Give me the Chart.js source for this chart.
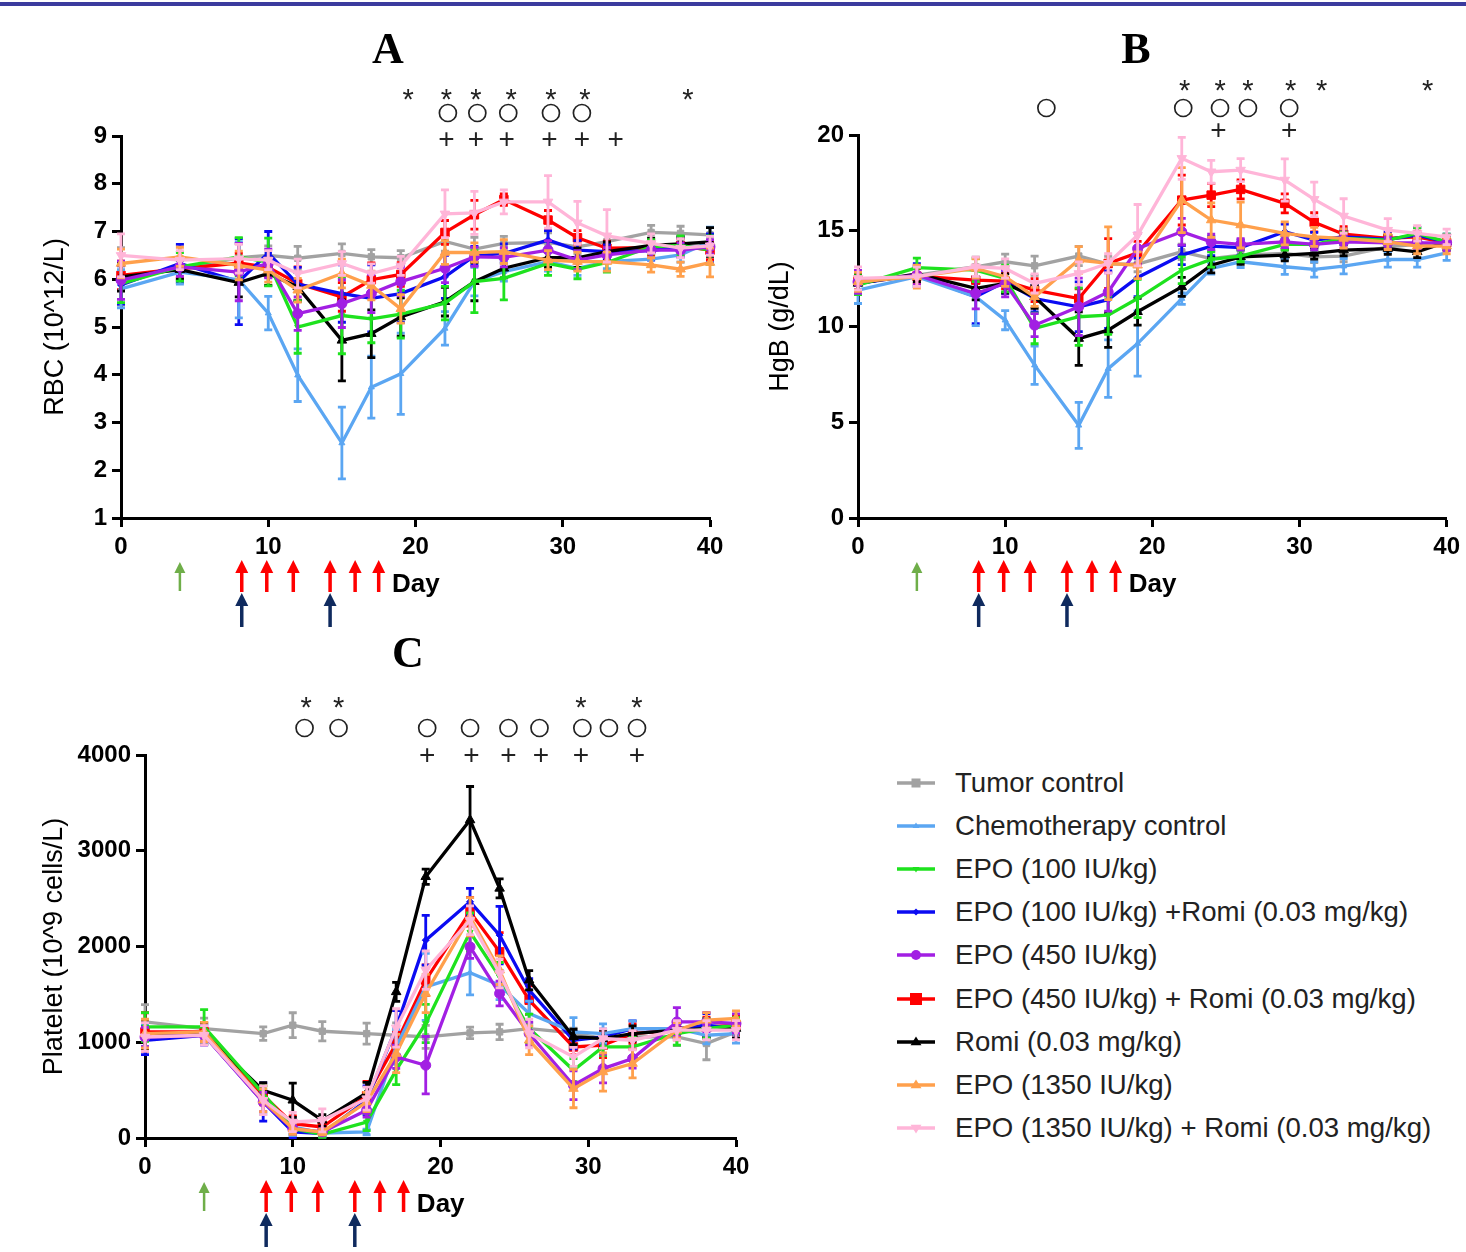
<!DOCTYPE html>
<html>
<head>
<meta charset="utf-8">
<script src="https://cdn.jsdelivr.net/npm/chart.js@4.4.1/dist/chart.umd.min.js"></script>
<style>
  html, body { margin: 0; padding: 0; background: #fff; }
  body { width: 1466px; height: 1252px; position: relative; overflow: hidden; font-family: 'Liberation Sans', Arial, sans-serif; }
  .rule { position: absolute; left: 0; top: 2px; width: 1466px; height: 4px; background: #3b3b9e; }
  canvas { position: absolute; }
  #legend { position: absolute; left: 897px; top: 761px; }
  .leg-row { position: absolute; left: 0; height: 44px; display: flex; align-items: center; white-space: nowrap; font-size: 27.6px; color: #222; }
  .leg-row svg { margin-right: 20px; }
</style>
</head>
<body>
<div class="rule"></div>
<canvas id="chartA" width="745" height="635" style="left:0;top:0"></canvas>
<canvas id="chartB" width="726" height="635" style="left:740px;top:0"></canvas>
<canvas id="chartC" width="760" height="617" style="left:0;top:635px"></canvas>
<div id="legend"></div>

<script>
// --- Data ---
const days = [0, 4, 8, 10, 12, 15, 17, 19, 22, 24, 26, 29, 31, 33, 36, 38, 40];

// A: RBC (10^12/L)
const rbcTumor    = [6.06, 6.22, 6.45, 6.50, 6.44, 6.54, 6.47, 6.45, 6.79, 6.63, 6.75, 6.77, 6.68, 6.79, 6.98, 6.96, 6.93];
const rbcChemo    = [5.80, 6.15, 5.99, 5.29, 3.99, 2.57, 3.74, 4.02, 4.97, 5.95, 6.16, 6.37, 6.23, 6.37, 6.42, 6.51, 6.79];
const rbcEpo100   = [5.91, 6.26, 6.47, 6.36, 5.00, 5.24, 5.17, 5.27, 5.50, 5.95, 6.02, 6.33, 6.21, 6.35, 6.68, 6.71, 6.61];
const rbcEpo100R  = [5.88, 6.33, 5.95, 6.55, 5.90, 5.70, 5.60, 5.70, 6.05, 6.49, 6.54, 6.82, 6.61, 6.58, 6.60, 6.68, 6.65];
const rbcEpo450   = [5.98, 6.26, 6.15, 6.33, 5.28, 5.49, 5.70, 5.95, 6.23, 6.47, 6.46, 6.61, 6.40, 6.51, 6.61, 6.61, 6.68];
const rbcEpo450R  = [6.08, 6.22, 6.34, 6.25, 5.91, 5.63, 5.99, 6.10, 6.98, 7.35, 7.67, 7.24, 6.87, 6.65, 6.66, 6.70, 6.61];
const rbcRomi     = [6.05, 6.20, 5.93, 6.12, 5.84, 4.72, 4.86, 5.21, 5.53, 5.95, 6.23, 6.45, 6.45, 6.58, 6.71, 6.74, 6.78];
const rbcEpo1350  = [6.33, 6.47, 6.29, 6.19, 5.77, 6.12, 5.87, 5.38, 6.56, 6.56, 6.58, 6.40, 6.37, 6.37, 6.30, 6.21, 6.35];
const rbcEpo1350R = [6.50, 6.40, 6.43, 6.40, 6.12, 6.33, 6.12, 6.28, 7.37, 7.39, 7.62, 7.62, 7.18, 6.91, 6.75, 6.65, 6.70];

const rbcTumorErr    = [0.6, 0.25, 0.3, 0.2, 0.25, 0.2, 0.15, 0.15, 0.2, 0.25, 0.15, 0.2, 0.15, 0.15, 0.15, 0.15, 0.15];
const rbcChemoErr    = [0.4, 0.25, 0.8, 0.35, 0.55, 0.75, 0.65, 0.85, 0.35, 0.3, 0.2, 0.2, 0.15, 0.15, 0.15, 0.15, 0.3];
const rbcEpo100Err   = [0.4, 0.3, 0.4, 0.5, 0.55, 0.8, 0.5, 0.5, 0.35, 0.65, 0.45, 0.25, 0.2, 0.2, 0.15, 0.2, 0.3];
const rbcEpo100RErr  = [0.4, 0.4, 0.9, 0.45, 0.35, 0.6, 0.7, 0.6, 0.45, 0.2, 0.2, 0.2, 0.2, 0.15, 0.2, 0.2, 0.3];
const rbcEpo450Err   = [0.4, 0.2, 0.6, 0.3, 0.35, 0.5, 0.4, 0.3, 0.3, 0.2, 0.2, 0.2, 0.2, 0.15, 0.15, 0.15, 0.15];
const rbcEpo450RErr  = [0.3, 0.2, 0.2, 0.2, 0.35, 0.3, 0.35, 0.25, 0.25, 0.3, 0.12, 0.2, 0.15, 0.15, 0.15, 0.15, 0.2];
const rbcRomiErr     = [0.3, 0.2, 0.3, 0.25, 0.3, 0.85, 0.5, 0.4, 0.3, 0.4, 0.2, 0.2, 0.2, 0.2, 0.15, 0.15, 0.3];
const rbcEpo1350Err  = [0.3, 0.2, 0.3, 0.25, 0.25, 0.3, 0.3, 0.3, 0.25, 0.2, 0.25, 0.2, 0.2, 0.2, 0.15, 0.15, 0.3];
const rbcEpo1350RErr = [0.45, 0.2, 0.3, 0.2, 0.3, 0.25, 0.2, 0.2, 0.5, 0.45, 0.25, 0.55, 0.45, 0.55, 0.2, 0.2, 0.2];

// B: HgB (g/dL)
const hgbTumor    = [12.28, 12.68, 13.12, 13.38, 13.17, 13.68, 13.26, 13.26, 13.90, 13.55, 13.73, 13.82, 13.64, 13.68, 14.16, 14.29, 14.37];
const hgbChemo    = [11.90, 12.60, 11.55, 10.33, 7.98, 4.84, 7.80, 9.11, 11.46, 13.03, 13.38, 13.12, 12.98, 13.15, 13.50, 13.50, 13.85];
const hgbEpo100   = [12.16, 13.07, 12.94, 12.51, 9.90, 10.51, 10.59, 11.46, 12.94, 13.50, 13.68, 14.29, 14.29, 14.60, 14.51, 14.86, 14.42];
const hgbEpo100R  = [12.25, 12.68, 11.55, 12.33, 11.46, 11.03, 11.40, 12.56, 13.73, 14.20, 14.12, 14.95, 14.51, 14.68, 14.55, 14.77, 14.42];
const hgbEpo450   = [12.33, 12.68, 11.72, 12.25, 10.07, 11.03, 11.80, 14.07, 14.95, 14.42, 14.29, 14.42, 14.29, 14.42, 14.37, 14.37, 14.37];
const hgbEpo450R  = [12.42, 12.63, 12.42, 12.37, 11.90, 11.46, 13.29, 13.85, 16.60, 16.86, 17.16, 16.43, 15.44, 14.82, 14.60, 14.68, 14.37];
const hgbRomi     = [12.25, 12.74, 11.99, 12.25, 11.55, 9.37, 9.81, 10.77, 12.07, 13.20, 13.64, 13.73, 13.82, 13.99, 14.07, 13.90, 14.42];
const hgbEpo1350  = [12.33, 12.60, 13.03, 12.60, 11.55, 13.47, 13.30, 13.20, 16.60, 15.56, 15.30, 14.86, 14.68, 14.60, 14.42, 14.20, 14.20];
const hgbEpo1350R = [12.51, 12.60, 13.12, 13.03, 12.25, 12.77, 13.30, 14.77, 18.78, 18.08, 18.17, 17.65, 16.64, 15.77, 15.03, 14.86, 14.68];

const hgbTumorErr    = [0.6, 0.4, 0.5, 0.4, 0.5, 0.5, 0.4, 0.4, 0.4, 0.4, 0.3, 0.3, 0.3, 0.3, 0.3, 0.3, 0.4];
const hgbChemoErr    = [0.7, 0.5, 1.5, 0.5, 1.0, 1.2, 1.5, 1.7, 0.3, 0.3, 0.3, 0.4, 0.4, 0.4, 0.4, 0.4, 0.4];
const hgbEpo100Err   = [0.5, 0.5, 0.6, 0.7, 0.8, 1.5, 1.0, 1.0, 0.7, 0.4, 0.3, 0.3, 0.3, 0.3, 0.3, 0.3, 0.4];
const hgbEpo100RErr  = [0.5, 0.6, 1.4, 0.6, 0.7, 1.3, 1.5, 1.0, 0.5, 0.5, 0.4, 0.4, 0.4, 0.4, 0.4, 0.4, 0.4];
const hgbEpo450Err   = [0.6, 0.5, 0.8, 0.7, 0.6, 1.5, 1.0, 0.8, 0.7, 0.4, 0.3, 0.3, 0.3, 0.3, 0.3, 0.3, 0.4];
const hgbEpo450RErr  = [0.5, 0.4, 0.5, 0.4, 0.6, 0.5, 1.3, 0.6, 1.3, 0.6, 0.5, 0.5, 0.5, 0.4, 0.3, 0.3, 0.4];
const hgbRomiErr     = [0.5, 0.4, 0.6, 0.5, 0.6, 1.4, 0.9, 0.7, 0.5, 0.4, 0.4, 0.3, 0.3, 0.3, 0.3, 0.3, 0.3];
const hgbEpo1350Err  = [0.5, 0.6, 0.5, 0.5, 0.5, 0.7, 1.9, 0.7, 1.7, 0.9, 1.2, 0.6, 0.5, 0.5, 0.4, 0.4, 0.4];
const hgbEpo1350RErr = [0.6, 0.5, 0.5, 0.5, 0.5, 0.6, 0.5, 1.6, 1.1, 0.6, 0.6, 1.1, 0.9, 0.9, 0.6, 0.4, 0.4];

// C: Platelet (10^9 cells/L)
const pltTumor    = [1212, 1143, 1090, 1178, 1115, 1090, 1073, 1056, 1097, 1108, 1143, 1097, 1039, 1056, 1056, 987, 1108];
const pltChemo    = [1073, 1090, 376, 115, 52, 63, 951, 1578, 1725, 1596, 1300, 1108, 1091, 1143, 1143, 1073, 1091];
const pltEpo100   = [1160, 1160, 463, 98, 38, 167, 708, 1196, 2150, 1683, 1143, 708, 951, 951, 1091, 1143, 1178];
const pltEpo100R  = [1021, 1073, 376, 63, 45, 394, 1150, 2066, 2467, 2119, 1544, 1021, 1056, 1143, 1143, 1178, 1143];
const pltEpo450   = [1055, 1073, 376, 98, 63, 289, 847, 760, 1996, 1509, 1091, 551, 725, 830, 1212, 1212, 1196];
const pltEpo450R  = [1108, 1108, 446, 150, 115, 440, 987, 1648, 2362, 1944, 1439, 951, 969, 1091, 1126, 1161, 1178];
const pltRomi     = [1073, 1090, 498, 394, 185, 470, 1526, 2728, 3321, 2607, 1648, 1056, 1039, 1091, 1126, 1143, 1143];
const pltEpo1350  = [1090, 1108, 394, 98, 63, 376, 882, 1509, 2310, 1753, 1021, 516, 690, 778, 1126, 1230, 1248];
const pltEpo1350R = [1055, 1073, 394, 167, 185, 411, 1150, 1753, 2275, 1718, 1091, 847, 1039, 1021, 1126, 1126, 1126];

const pltTumorErr    = [180, 110, 70, 130, 100, 110, 130, 120, 60, 80, 60, 50, 70, 80, 90, 170, 80];
const pltChemoErr    = [120, 100, 130, 90, 40, 30, 180, 350, 230, 150, 130, 150, 100, 80, 80, 90, 100];
const pltEpo100Err   = [150, 180, 80, 60, 30, 90, 150, 200, 200, 150, 150, 120, 90, 100, 120, 100, 80];
const pltEpo100RErr  = [150, 100, 200, 60, 30, 150, 180, 260, 140, 300, 120, 90, 80, 80, 80, 120, 100];
const pltEpo450Err   = [100, 100, 100, 60, 30, 70, 120, 300, 120, 130, 120, 150, 150, 100, 150, 100, 100];
const pltEpo450RErr  = [200, 100, 100, 80, 60, 150, 120, 160, 150, 200, 150, 80, 130, 100, 100, 100, 100];
const pltRomiErr     = [150, 110, 80, 180, 60, 110, 100, 80, 350, 100, 100, 80, 90, 80, 80, 100, 100];
const pltEpo1350Err  = [150, 100, 120, 60, 30, 100, 200, 200, 200, 150, 150, 200, 200, 150, 80, 80, 80];
const pltEpo1350RErr = [150, 100, 150, 100, 120, 120, 200, 200, 150, 150, 150, 100, 100, 100, 100, 100, 100];

// significance marks (day positions) per panel
const rbcStars   = [19.5, 22.1, 24.1, 26.5, 29.2, 31.5, 38.5];
const rbcCircles = [22.2, 24.2, 26.3, 29.2, 31.3];
const rbcPluses  = [22.1, 24.1, 26.2, 29.1, 31.3, 33.6];
const hgbStars   = [22.2, 24.6, 26.5, 29.4, 31.5, 38.7];
const hgbCircles = [12.8, 22.1, 24.6, 26.5, 29.3];
const hgbPluses  = [24.5, 29.3];
const pltStars   = [10.9, 13.1, 29.5, 33.3];
const pltCircles = [10.8, 13.1, 19.1, 22.0, 24.6, 26.7, 29.6, 31.4, 33.3];
const pltPluses  = [19.1, 22.1, 24.6, 26.8, 29.5, 33.3];

// treatment arrows (days)
const epoArrowDays   = [8.2, 9.9, 11.7, 14.2, 15.9, 17.5];
const chemoArrowDays = [8.2, 14.2];
const tumorArrowDays = [4.0];

// --- Styles ---
const SANS = "'Liberation Sans', Arial, sans-serif";
const SERIF = "'Liberation Serif', 'Times New Roman', serif";

const SERIES = [
    { key: 'tumor',     label: 'Tumor control',                       color: '#a2a2a2', style: 'rect',     radius: 4.5, rotation: 0 },
    { key: 'chemo',     label: 'Chemotherapy control',                color: '#5ba6f2', style: 'triangle', radius: 3.5, rotation: 0 },
    { key: 'epo100',    label: 'EPO (100 IU/kg)',                     color: '#1ee21e', style: 'triangle', radius: 3.5, rotation: 180 },
    { key: 'epo100r',   label: 'EPO (100 IU/kg) +Romi (0.03 mg/kg)',  color: '#0b0bf2', style: 'rectRot',  radius: 3.5, rotation: 0 },
    { key: 'epo450',    label: 'EPO (450 IU/kg)',                     color: '#a21fe3', style: 'circle',   radius: 5,   rotation: 0 },
    { key: 'epo450r',   label: 'EPO (450 IU/kg) + Romi (0.03 mg/kg)', color: '#ff0000', style: 'rect',     radius: 6,   rotation: 0 },
    { key: 'romi',      label: 'Romi (0.03 mg/kg)',                   color: '#000000', style: 'triangle', radius: 5.5, rotation: 0 },
    { key: 'epo1350',   label: 'EPO (1350 IU/kg)',                    color: '#ffa04c', style: 'triangle', radius: 5.5, rotation: 0 },
    { key: 'epo1350r',  label: 'EPO (1350 IU/kg) + Romi (0.03 mg/kg)', color: '#ffb5d8', style: 'triangle', radius: 5.5, rotation: 180 },
];
// drawing order (later = on top)
const DRAW_ORDER = ['epo1350r', 'epo1350', 'epo450', 'epo100', 'romi', 'chemo', 'epo100r', 'epo450r', 'tumor'];

// --- Plugins ---
const errorBarPlugin = {
    id: 'errorBars',
    afterDatasetDraw(chart, args) {
        const ds = chart.data.datasets[args.index];
        if (!ds.errors) return;
        const { ctx, scales: { y } } = chart;
        ctx.save();
        ctx.strokeStyle = ds.borderColor;
        ctx.lineWidth = 2.8;
        args.meta.data.forEach((pt, i) => {
            const v = ds.data[i].y;
            const e = ds.errors[i];
            const top = y.getPixelForValue(v + e);
            const bot = y.getPixelForValue(v - e);
            ctx.beginPath();
            ctx.moveTo(pt.x, top); ctx.lineTo(pt.x, bot);
            ctx.moveTo(pt.x - 4, top); ctx.lineTo(pt.x + 4, top);
            ctx.moveTo(pt.x - 4, bot); ctx.lineTo(pt.x + 4, bot);
            ctx.stroke();
        });
        ctx.restore();
    }
};

function drawArrow(ctx, x, yTip, yTail, color, shaft, headW, headH) {
    ctx.fillStyle = color;
    ctx.fillRect(x - shaft / 2, yTip + headH - 1, shaft, yTail - yTip - headH + 1);
    ctx.beginPath();
    ctx.moveTo(x, yTip);
    ctx.lineTo(x + headW / 2, yTip + headH);
    ctx.lineTo(x - headW / 2, yTip + headH);
    ctx.closePath();
    ctx.fill();
}

const extrasPlugin = {
    id: 'panelExtras',
    afterDraw(chart, args, opts) {
        const { ctx, chartArea, scales: { x } } = chart;
        ctx.save();
        ctx.fillStyle = '#000';

        // panel letter
        ctx.font = `bold 44px ${SERIF}`;
        ctx.textAlign = 'center';
        ctx.textBaseline = 'alphabetic';
        ctx.fillText(opts.letter, opts.letterX, opts.letterY);

        // significance marks
        ctx.fillStyle = '#222';
        ctx.font = `29px ${SANS}`;
        opts.stars.forEach(d => ctx.fillText('*', x.getPixelForValue(d), opts.starY + 17));
        ctx.font = `28px ${SANS}`;
        opts.pluses.forEach(d => ctx.fillText('+', x.getPixelForValue(d), opts.plusY + 9));
        ctx.strokeStyle = '#222';
        ctx.lineWidth = 1.7;
        opts.circles.forEach(d => {
            ctx.beginPath();
            ctx.arc(x.getPixelForValue(d), opts.circleY, 8.5, 0, Math.PI * 2);
            ctx.stroke();
        });

        // treatment arrows under the x axis
        const b = chartArea.bottom;
        tumorArrowDays.forEach(d => drawArrow(ctx, x.getPixelForValue(d), b + 44, b + 73, '#6fae49', 2.5, 11, 11));
        epoArrowDays.forEach(d => drawArrow(ctx, x.getPixelForValue(d), b + 42, b + 74, '#ff0000', 3.5, 13, 13));
        chemoArrowDays.forEach(d => drawArrow(ctx, x.getPixelForValue(d), b + 75, b + 109, '#0f2a5e', 3.5, 13, 13));

        // "Day" axis label
        ctx.fillStyle = '#000';
        ctx.font = `bold 26px ${SANS}`;
        ctx.textAlign = 'left';
        ctx.fillText('Day', x.getPixelForValue(18.4), b + 74);
        ctx.restore();
    }
};

// --- Chart builder ---
function buildPanel(canvasId, cfg) {
    const datasets = DRAW_ORDER.map(key => {
        const s = SERIES.find(d => d.key === key);
        return {
            label: s.label,
            data: days.map((d, i) => ({ x: d, y: cfg.values[key][i] })),
            errors: cfg.errors[key],
            borderColor: s.color,
            backgroundColor: s.color,
            borderWidth: 3.3,
            pointStyle: s.style,
            pointRadius: s.radius,
            pointRotation: s.rotation,
            pointBorderWidth: 1,
            tension: 0,
            clip: false,
        };
    });

    return new Chart(document.getElementById(canvasId), {
        type: 'line',
        data: { datasets },
        options: {
            responsive: false,
            animation: false,
            layout: { padding: cfg.padding },
            scales: {
                x: {
                    type: 'linear', min: 0, max: 40,
                    ticks: { stepSize: 10, color: '#000', padding: 6, maxRotation: 0, autoSkip: false,
                             font: { family: SANS, size: 24, weight: 'bold' } },
                    grid: { display: true, drawOnChartArea: false, drawTicks: true, tickLength: 9, tickWidth: 3, tickColor: '#000' },
                    border: { display: true, color: '#000', width: 3 },
                    afterFit: s => { s.height = 45; }
                },
                y: {
                    type: 'linear', min: cfg.yMin, max: cfg.yMax,
                    ticks: { stepSize: cfg.yStep, color: '#000', padding: 5,
                             callback: v => String(v),
                             font: { family: SANS, size: 24, weight: 'bold' } },
                    grid: { display: true, drawOnChartArea: false, drawTicks: true, tickLength: 9, tickWidth: 3, tickColor: '#000' },
                    border: { display: true, color: '#000', width: 3 },
                    title: { display: true, text: cfg.yTitle, color: '#000',
                             font: { family: SANS, size: 27 }, padding: { top: cfg.titlePad, bottom: 0 } },
                    afterFit: s => { s.width = cfg.yWidth; }
                }
            },
            plugins: {
                legend: { display: false },
                tooltip: { enabled: false },
                panelExtras: cfg.extras
            }
        },
        plugins: [errorBarPlugin, extrasPlugin]
    });
}

buildPanel('chartA', {
    values: { tumor: rbcTumor, chemo: rbcChemo, epo100: rbcEpo100, epo100r: rbcEpo100R, epo450: rbcEpo450,
              epo450r: rbcEpo450R, romi: rbcRomi, epo1350: rbcEpo1350, epo1350r: rbcEpo1350R },
    errors: { tumor: rbcTumorErr, chemo: rbcChemoErr, epo100: rbcEpo100Err, epo100r: rbcEpo100RErr, epo450: rbcEpo450Err,
              epo450r: rbcEpo450RErr, romi: rbcRomiErr, epo1350: rbcEpo1350Err, epo1350r: rbcEpo1350RErr },
    yMin: 1, yMax: 9, yStep: 1, yTitle: 'RBC (10^12/L)', yWidth: 121, titlePad: 39,
    padding: { left: 0, top: 136, right: 35, bottom: 72 },
    extras: { letter: 'A', letterX: 388, letterY: 63, stars: rbcStars, circles: rbcCircles, pluses: rbcPluses,
              starY: 92, circleY: 113, plusY: 139 }
});

buildPanel('chartB', {
    values: { tumor: hgbTumor, chemo: hgbChemo, epo100: hgbEpo100, epo100r: hgbEpo100R, epo450: hgbEpo450,
              epo450r: hgbEpo450R, romi: hgbRomi, epo1350: hgbEpo1350, epo1350r: hgbEpo1350R },
    errors: { tumor: hgbTumorErr, chemo: hgbChemoErr, epo100: hgbEpo100Err, epo100r: hgbEpo100RErr, epo450: hgbEpo450Err,
              epo450r: hgbEpo450RErr, romi: hgbRomiErr, epo1350: hgbEpo1350Err, epo1350r: hgbEpo1350RErr },
    yMin: 0, yMax: 20, yStep: 5, yTitle: 'HgB (g/dL)', yWidth: 118, titlePad: 24,
    padding: { left: 0, top: 135, right: 18, bottom: 72 },
    extras: { letter: 'B', letterX: 396, letterY: 63, stars: hgbStars, circles: hgbCircles, pluses: hgbPluses,
              starY: 83, circleY: 108, plusY: 130 }
});

buildPanel('chartC', {
    values: { tumor: pltTumor, chemo: pltChemo, epo100: pltEpo100, epo100r: pltEpo100R, epo450: pltEpo450,
              epo450r: pltEpo450R, romi: pltRomi, epo1350: pltEpo1350, epo1350r: pltEpo1350R },
    errors: { tumor: pltTumorErr, chemo: pltChemoErr, epo100: pltEpo100Err, epo100r: pltEpo100RErr, epo450: pltEpo450Err,
              epo450r: pltEpo450RErr, romi: pltRomiErr, epo1350: pltEpo1350Err, epo1350r: pltEpo1350RErr },
    yMin: 0, yMax: 4000, yStep: 1000, yTitle: 'Platelet (10^9 cells/L)', yWidth: 145, titlePad: 38,
    padding: { left: 0, top: 120, right: 24, bottom: 69 },
    extras: { letter: 'C', letterX: 408, letterY: 32, stars: pltStars, circles: pltCircles, pluses: pltPluses,
              starY: 65, circleY: 93, plusY: 120 }
});

// --- Legend (HTML) ---
function markerSvg(s) {
    const c = s.color;
    let shape = '';
    const r = s.radius;
    if (s.style === 'rect') {
        shape = `<rect x="${19 - r}" y="${10 - r}" width="${2 * r}" height="${2 * r}" fill="${c}"/>`;
    } else if (s.style === 'circle') {
        shape = `<circle cx="19" cy="10" r="${r}" fill="${c}"/>`;
    } else if (s.style === 'rectRot') {
        shape = `<polygon points="19,${10 - r} ${19 + r},10 19,${10 + r} ${19 - r},10" fill="${c}"/>`;
    } else {
        const pts = s.rotation === 180
            ? `${19 - r},${10 - r * 0.6} ${19 + r},${10 - r * 0.6} 19,${10 + r}`
            : `${19 - r},${10 + r * 0.6} ${19 + r},${10 + r * 0.6} 19,${10 - r}`;
        shape = `<polygon points="${pts}" fill="${c}"/>`;
    }
    return `<svg width="38" height="20" viewBox="0 0 38 20"><line x1="0" y1="10" x2="38" y2="10" stroke="${c}" stroke-width="3.3"/>${shape}</svg>`;
}

const legendEl = document.getElementById('legend');
SERIES.forEach((s, i) => {
    const row = document.createElement('div');
    row.className = 'leg-row';
    row.style.top = `${i * 43.1}px`;
    row.innerHTML = markerSvg(s) + `<span>${s.label}</span>`;
    legendEl.appendChild(row);
});
</script>
</body>
</html>
